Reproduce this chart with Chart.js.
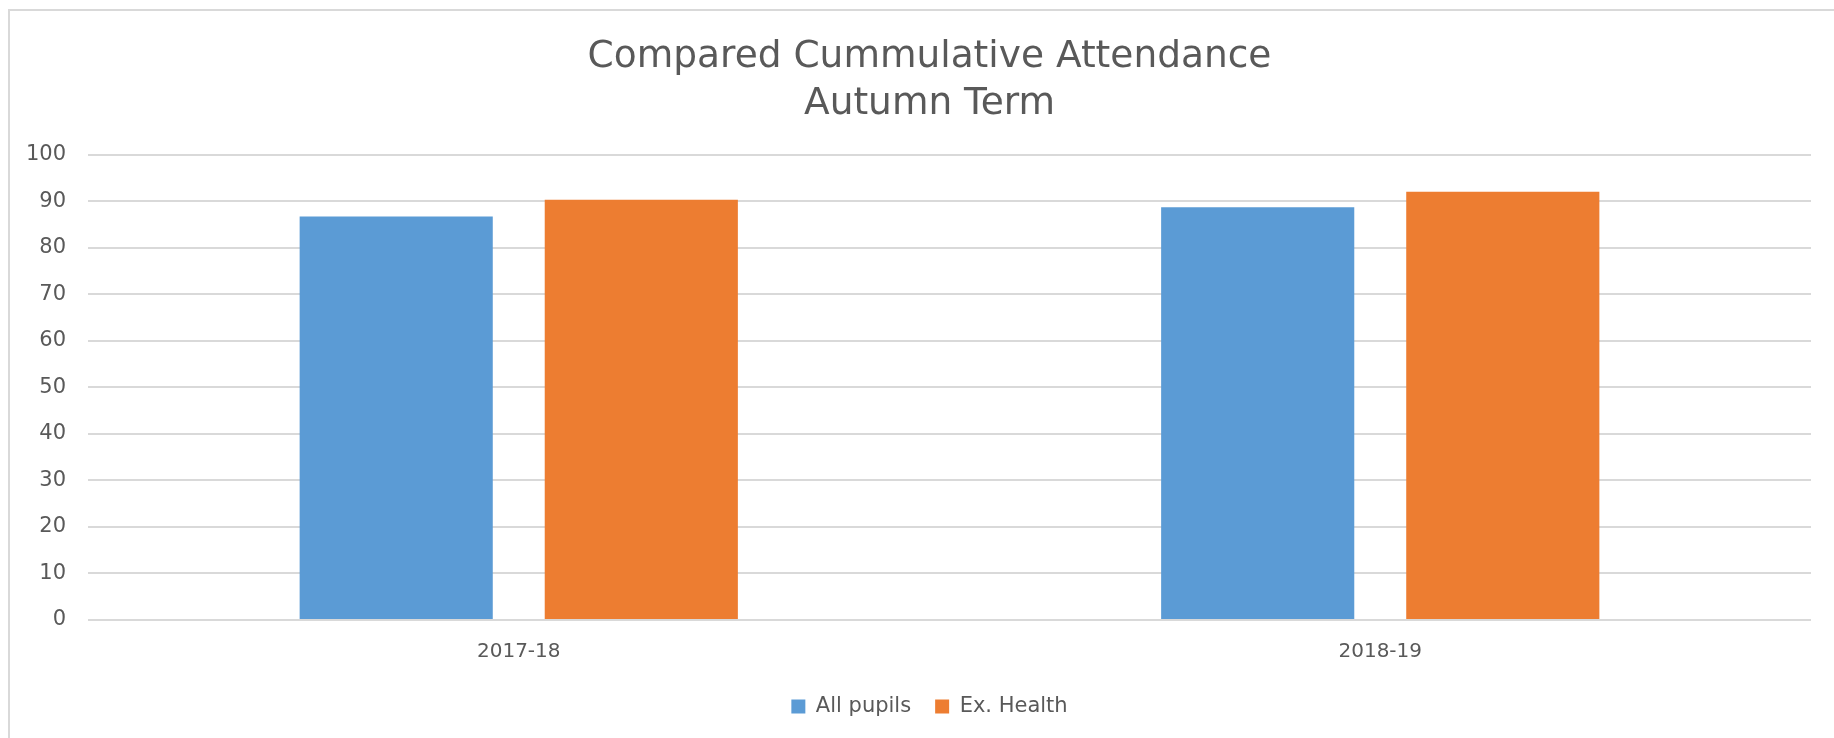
<!DOCTYPE html>
<html>
<head>
<meta charset="utf-8">
<script src="https://cdn.jsdelivr.net/npm/chart.js@4.4.1/dist/chart.umd.min.js"></script>
<style>
  html, body { margin: 0; padding: 0; background: #ffffff; }
  #wrap { position: relative; width: 1834px; height: 738px; overflow: hidden; }
  #frame { position: absolute; left: 8px; top: 9px; width: 1900px; height: 800px;
           border-top: 2px solid #d9d9d9; border-left: 2px solid #d9d9d9; box-sizing: border-box; }
  canvas { position: absolute; left: 0; top: 0; }
</style>
</head>
<body>
<div id="wrap">
  <div id="frame"></div>
  <canvas id="c" width="1834" height="738"></canvas>
</div>
<script>
const categories = ["2017-18", "2018-19"];
const allPupils = [86.7, 88.7];
const exHealth = [90.3, 92.0];
const seriesNames = ["All pupils", "Ex. Health"];
const titleLines = ["Compared Cummulative Attendance", "Autumn Term"];

const FONT = "'DejaVu Sans', sans-serif";
const TEXT = "#595959";
const WEIGHT = "normal";

// shift the title and legend boxes so they centre on the chart frame like the reference
const centreShift = {
  id: "centreShift",
  afterLayout(chart) {
    if (chart.titleBlock) { chart.titleBlock.left += 48; }
    if (chart.legend) { chart.legend.left += 48; chart.legend.adjustHitBoxes && chart.legend.adjustHitBoxes(); }
  }
};

new Chart(document.getElementById("c"), {
  type: "bar",
  data: {
    labels: categories,
    datasets: [
      { label: seriesNames[0], data: allPupils, backgroundColor: "#5B9BD5", borderWidth: 0,
        categoryPercentage: 0.569, barPercentage: 0.788 },
      { label: seriesNames[1], data: exHealth, backgroundColor: "#ED7D31", borderWidth: 0,
        categoryPercentage: 0.569, barPercentage: 0.788 }
    ]
  },
  plugins: [centreShift],
  options: {
    responsive: false,
    animation: false,
    layout: { padding: { left: 0, right: 23, top: 16, bottom: 11 } },
    plugins: {
      title: {
        display: true,
        text: titleLines,
        color: TEXT,
        font: { family: FONT, size: 37.5, weight: WEIGHT, lineHeight: 1.248 },
        padding: { top: 18, bottom: 27 }
      },
      legend: {
        display: true,
        position: "bottom",
        labels: {
          color: TEXT,
          font: { family: FONT, size: 21, weight: WEIGHT },
          boxWidth: 14, boxHeight: 14, padding: 24
        }
      },
      tooltip: { enabled: false }
    },
    scales: {
      x: {
        afterFit: (s) => { s.height = 52; },
        grid: { display: false, drawTicks: false },
        border: { display: false },
        ticks: { color: TEXT, font: { family: FONT, size: 20, weight: WEIGHT }, padding: 20 }
      },
      y: {
        min: 0, max: 100,
        afterFit: (s) => { s.width = 88; },
        grid: { color: "#d9d9d9", lineWidth: 2, drawTicks: false },
        border: { display: false },
        ticks: { stepSize: 10, color: TEXT, font: { family: FONT, size: 21, weight: WEIGHT }, padding: 22 }
      }
    }
  }
});
</script>
</body>
</html>
